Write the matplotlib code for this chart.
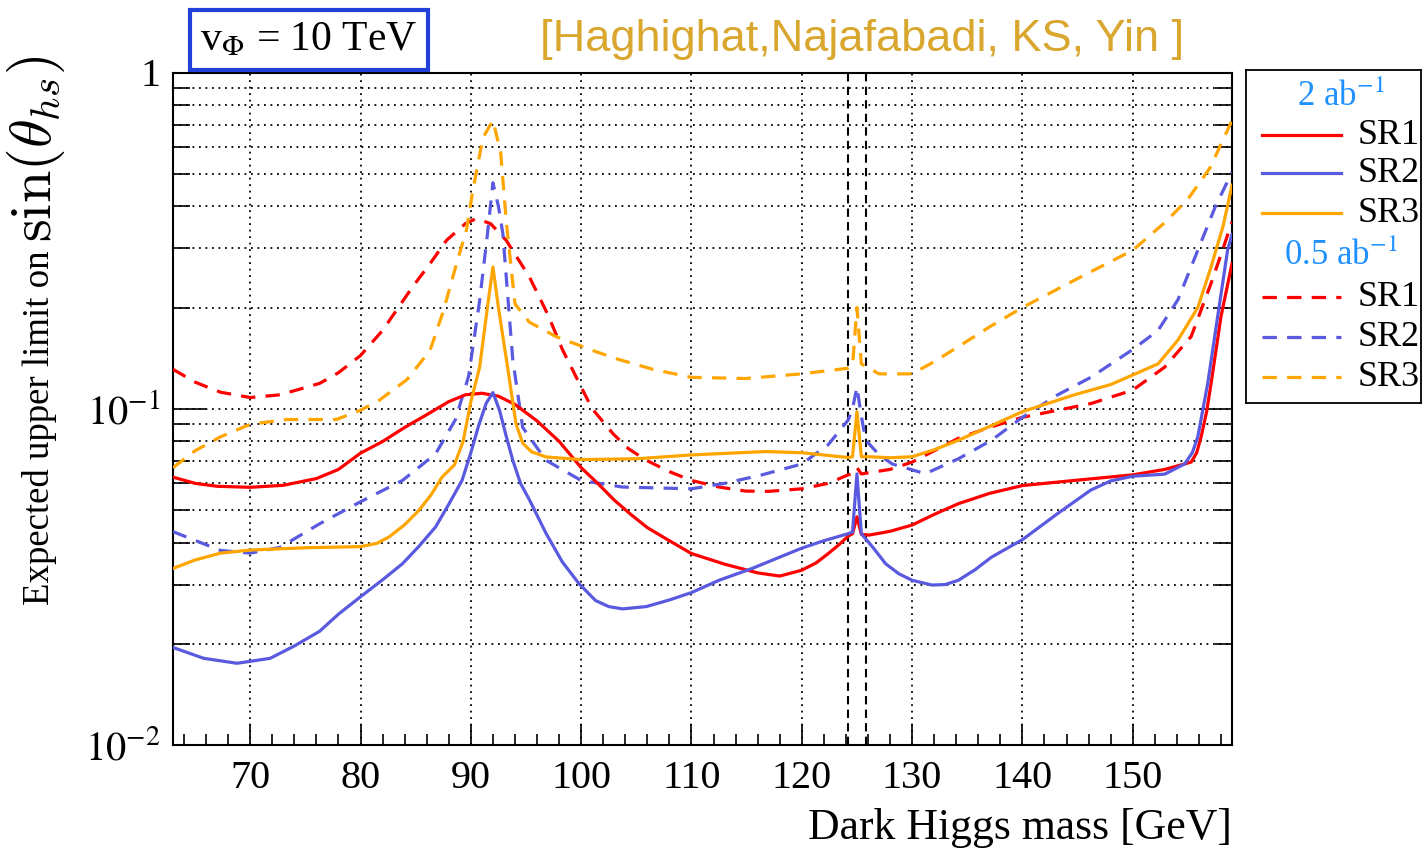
import matplotlib
matplotlib.use('Agg')
import matplotlib.pyplot as plt
from matplotlib.ticker import LogLocator, MultipleLocator, NullFormatter

plt.rcParams['font.family'] = ['Liberation Serif', 'DejaVu Serif']
plt.rcParams['mathtext.fontset'] = 'stix'

# ---- data (dark Higgs mass [GeV], limit on sin) ----
sr1_2ab_x = [63, 65, 67, 70, 73, 76, 78, 80, 82, 84, 86, 88, 89.5, 91, 92.5, 94, 96, 98,
             100, 101.5, 103, 104.5, 106, 108, 110, 113, 116, 118, 120, 121.3, 122.4,
             123.4, 124.2, 124.6, 125.0, 125.4, 126.1, 128, 130, 132, 134.2, 137, 140,
             144.7, 150, 152.9, 155.3, 155.8, 156.2, 156.7, 157.1, 158, 159]
sr1_2ab_y = [0.0626, 0.060, 0.0588, 0.0584, 0.0592, 0.062, 0.066, 0.0738, 0.0799, 0.088,
             0.096, 0.105, 0.110, 0.1112, 0.109, 0.103, 0.092, 0.080, 0.0668, 0.060,
             0.0535, 0.0485, 0.0443, 0.0405, 0.0371, 0.0345, 0.0325, 0.0318, 0.0331,
             0.0348, 0.0371, 0.0395, 0.0418, 0.0425, 0.0477, 0.0423, 0.0421, 0.0432,
             0.0451, 0.0485, 0.0522, 0.0560, 0.0591, 0.0612, 0.0636, 0.066, 0.0694,
             0.074, 0.0825, 0.098, 0.1187, 0.188, 0.27]

sr2_2ab_x = [63, 65.8, 68.8, 71.8, 74, 76.3, 78, 80, 82, 83.8, 85.3, 86.8, 88, 89.2, 90.0,
             90.7, 91.4, 92.0, 92.6, 93.2, 93.8, 94.5, 95.3, 96.8, 98.3, 99.8, 101.3,
             102.5, 103.75, 105.9, 108, 110, 112.5, 115.5, 118, 120, 122, 124.2, 124.6,
             125.0, 125.4, 126.5, 127.6, 128.8, 130, 131.8, 133, 134.2, 135.7, 137.2, 140,
             143.2, 146.2, 148, 150, 152.9, 154.7, 155.4, 155.9, 156.8, 157.7, 158.6, 159]
sr2_2ab_y = [0.0195, 0.0181, 0.0175, 0.0181, 0.0197, 0.0218, 0.0245, 0.0276, 0.031,
             0.0346, 0.039, 0.0445, 0.052, 0.0612, 0.074, 0.089, 0.104, 0.1117, 0.099,
             0.083, 0.0703, 0.060, 0.0537, 0.0427, 0.035, 0.0302, 0.0269, 0.0258, 0.0254,
             0.0258, 0.0270, 0.0284, 0.0309, 0.0335, 0.0362, 0.0385, 0.0405, 0.0425,
             0.043, 0.064, 0.0425, 0.0385, 0.0346, 0.0323, 0.0309, 0.0299, 0.0300, 0.0309,
             0.0332, 0.0362, 0.0408, 0.0488, 0.0573, 0.061, 0.063, 0.0639, 0.0685, 0.074,
             0.0825, 0.119, 0.188, 0.296, 0.33]

sr3_2ab_x = [63, 65, 67.3, 70, 75, 80, 81.5, 82.6, 84, 85.3, 86.4, 87.4, 88.5, 89.3, 90.0,
             90.8, 91.5, 92.0, 92.5, 93.3, 94.1, 94.7, 95.5, 96.8, 100, 105, 110, 116.7,
             120, 124.2, 124.6, 125.0, 125.4, 126, 128, 130, 132, 134.2, 137, 140, 144.7,
             148, 150, 152.3, 154.1, 155.9, 157.1, 158.2, 159]
sr3_2ab_y = [0.0335, 0.0355, 0.0372, 0.038, 0.0386, 0.0389, 0.0398, 0.0416, 0.0452,
             0.0499, 0.0555, 0.0627, 0.068, 0.08, 0.105, 0.133, 0.2, 0.264, 0.2, 0.135,
             0.09, 0.079, 0.0745, 0.0719, 0.0706, 0.071, 0.0729, 0.0746, 0.074, 0.0716,
             0.072, 0.098, 0.072, 0.072, 0.0715, 0.072, 0.0755, 0.0806, 0.0885, 0.098,
             0.11, 0.118, 0.126, 0.136, 0.16, 0.2, 0.264, 0.35, 0.462]

sr1_05ab_x = [63, 65, 67.3, 70, 72.7, 76.3, 78, 80, 82, 84.7, 86.3, 87.8, 89.5, 90.5, 91.8,
              93.2, 95.3, 97, 98.3, 100, 101, 102.9, 104.3, 105.9, 108, 110, 112.5, 114.9,
              117, 120, 122.4, 124.2, 124.6, 125.0, 125.4, 128, 130, 132, 134.2, 137, 140,
              143.2, 146.2, 150, 152.9, 155.3, 157.1, 158.2, 159]
sr1_05ab_y = [0.131, 0.12, 0.112, 0.108, 0.110, 0.119, 0.128, 0.144, 0.171, 0.23, 0.27,
              0.317, 0.355, 0.368, 0.355, 0.317, 0.247, 0.19, 0.15, 0.116, 0.100, 0.0842,
              0.076, 0.0703, 0.065, 0.0612, 0.0585, 0.0569, 0.0568, 0.0578, 0.060, 0.0636,
              0.064, 0.0668, 0.064, 0.066, 0.0694, 0.075, 0.0817, 0.088, 0.0943, 0.099,
              0.1036, 0.1136, 0.133, 0.164, 0.236, 0.30, 0.36]

sr2_05ab_x = [63, 67.3, 70, 72.7, 76.3, 80, 83.8, 86.8, 88.6, 89.8, 90.8, 91.5, 92.0,
              92.5, 92.9, 93.8, 94.7, 96.8, 100, 103.75, 110, 113, 116.4, 120, 122.4,
              124.2, 124.6, 125.0, 125.4, 125.8, 127, 128.2, 131.2, 134.2, 137.2, 140,
              143.2, 146.2, 150, 152.3, 154.1, 155.9, 157.5, 159]
sr2_05ab_y = [0.0431, 0.0379, 0.0372, 0.0387, 0.0455, 0.0529, 0.0612, 0.0734, 0.0928,
              0.125, 0.21, 0.33, 0.47, 0.40, 0.332, 0.14, 0.088, 0.0703, 0.0612, 0.0585,
              0.0578, 0.060, 0.0636, 0.0685, 0.0782, 0.0925, 0.10, 0.116, 0.095, 0.0806,
              0.073, 0.0685, 0.0641, 0.071, 0.0806, 0.0943, 0.11, 0.124, 0.15, 0.171,
              0.211, 0.296, 0.40, 0.505]

sr3_05ab_x = [63, 65, 67.3, 70, 73.3, 77.8, 80, 81.7, 84.2, 86.3, 87.5, 88.7, 89.6, 90.2,
              91.1, 92.0, 92.7, 93.2, 94.0, 95.3, 97.7, 101.3, 103.45, 106.5, 110, 114.9,
              120, 124.2, 124.6, 125.0, 125.4, 127, 130, 132, 134.2, 137, 140, 144.7, 150,
              153, 155, 157, 159]
sr3_05ab_y = [0.0668, 0.075, 0.0825, 0.0899, 0.0929, 0.0929, 0.099, 0.106, 0.122, 0.149,
              0.195, 0.27, 0.34, 0.45, 0.64, 0.72, 0.58, 0.364, 0.205, 0.181, 0.164,
              0.148, 0.14, 0.131, 0.124, 0.123, 0.127, 0.132, 0.134, 0.2, 0.136, 0.127,
              0.127, 0.138, 0.153, 0.175, 0.2, 0.241, 0.296, 0.36, 0.42, 0.52, 0.72]

higgs_band = [124.2, 125.8]
sr_labels = ['SR1', 'SR2', 'SR3']
lumi_labels = [r'2 ab$^{\mathrm{-1}}$', r'0.5 ab$^{\mathrm{-1}}$']

RED = '#ff0000'
BLUE = '#5a5ae0'
ORANGE = '#ffa500'
colors = [RED, BLUE, ORANGE]
LW = 2.3
DASH = (4.5, 3.2)

W, H = 1424, 852
fig = plt.figure(figsize=(W / 100, H / 100), dpi=100)
ax = fig.add_axes([173 / W, 1 - 745 / H, (1232 - 173) / W, (745 - 72.5) / H])

# grid first so curves sit on top
ax.set_axisbelow(True)
ax.grid(True, which='major', axis='x', color='k', ls=(0, (1, 2.6)), lw=1.3)
ax.grid(True, which='both', axis='y', color='k', ls=(0, (1, 2.6)), lw=1.3)

series_2ab = [(sr1_2ab_x, sr1_2ab_y), (sr2_2ab_x, sr2_2ab_y), (sr3_2ab_x, sr3_2ab_y)]
series_05ab = [(sr1_05ab_x, sr1_05ab_y), (sr2_05ab_x, sr2_05ab_y), (sr3_05ab_x, sr3_05ab_y)]

for (xs, ys), c in zip(series_05ab, colors):
    ax.plot(xs, ys, color=c, lw=LW, dashes=DASH, zorder=3)
for (xs, ys), c in zip(series_2ab, colors):
    ax.plot(xs, ys, color=c, lw=LW, zorder=4)

for xv in higgs_band:
    ax.axvline(xv, color='k', lw=1.5, dashes=(4, 2.5), zorder=2)

ax.set_yscale('log')
ax.set_xlim(63, 159)
ax.set_ylim(0.01, 1)

ax.xaxis.set_major_locator(MultipleLocator(10))
ax.xaxis.set_minor_locator(MultipleLocator(2))
ax.set_yticks([0.01, 0.1, 1])
ax.set_yticklabels([r'$10^{-2}$', r'$10^{-1}$', '1'])
ax.yaxis.set_minor_locator(LogLocator(base=10, subs=range(2, 10)))
ax.yaxis.set_minor_formatter(NullFormatter())

ax.tick_params(axis='both', which='both', direction='in', right=True, top=False,
               width=1.2, labelsize=29)
ax.tick_params(axis='y', which='major', length=24, pad=9)
ax.tick_params(axis='y', which='minor', length=12)
ax.tick_params(axis='x', which='major', length=15, pad=11)
ax.tick_params(axis='x', which='minor', length=8)
for s in ax.spines.values():
    s.set_linewidth(1.5)

# axis titles
fig.text(1232 / W, 1 - 828 / H, 'Dark Higgs mass [GeV]', ha='right', va='center',
         fontsize=31.5)
t1 = fig.text(40 / W, 1 - 605 / H, 'Expected upper limit on', rotation=90,
              ha='center', va='bottom', fontsize=26.5)
fig.canvas.draw()
bb = t1.get_window_extent()
fig.text(36 / W, (bb.y1 + 8) / H, r'$\sin(\theta_{hs})$', rotation=90, ha='center',
         va='bottom', fontsize=42, math_fontfamily='cm')

# labels above the frame
fig.text(309 / W, 1 - 40 / H, r'v$_{\Phi}$ = 10 TeV', ha='center', va='center',
         fontsize=30,
         bbox=dict(boxstyle='square,pad=0.25', fc='white', ec='#2340d8', lw=3))
fig.text(540 / W, 1 - 40 / H, '[Haghighat,Najafabadi, KS, Yin ]', ha='left',
         va='center', fontsize=32.5, color='#d9a62e', family='Liberation Sans')

# legend drawn in its own box
lax = fig.add_axes([1246 / W, 1 - 403 / H, 175 / W, 333 / H])
lax.set_xlim(0, 1)
lax.set_ylim(0, 1)
lax.set_xticks([])
lax.set_yticks([])
for s in lax.spines.values():
    s.set_linewidth(1.3)

rows = [(403 - p) / 333 for p in [97, 135, 173, 213, 256, 297, 337, 377]]
for blk, (lumi, style) in enumerate(zip(lumi_labels, [None, DASH])):
    r0 = blk * 4
    lax.text(0.54, rows[r0], lumi, ha='center', va='center', fontsize=25,
             color='#1e90ff')
    for i, (lab, c) in enumerate(zip(sr_labels, colors)):
        yy = rows[r0 + 1 + i]
        if style is None:
            lax.plot([0.09, 0.54], [yy, yy], color=c, lw=LW)
        else:
            lax.plot([0.09, 0.54], [yy, yy], color=c, lw=LW, dashes=style)
        lax.text(0.64, yy, lab, ha='left', va='center', fontsize=26)

fig.savefig('out.png', dpi=100)
